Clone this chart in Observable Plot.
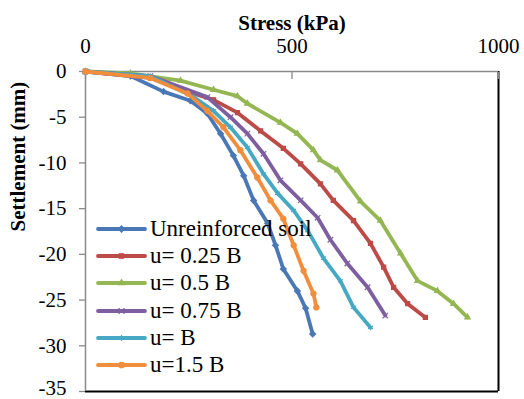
<!DOCTYPE html>
<html><head><meta charset="utf-8">
<script src="https://cdn.jsdelivr.net/npm/d3@7"></script>
<script src="https://cdn.jsdelivr.net/npm/@observablehq/plot@0.6"></script>
<style>
body{margin:0;background:#fff;}
#wrap{position:relative;width:524px;height:399px;font-family:"Liberation Serif","Times New Roman",serif;}
#wrap svg text{font-family:"Liberation Serif","Times New Roman",serif;}
#legend{position:absolute;left:96px;top:215px;}
.row{display:flex;align-items:center;height:27.3px;font-size:23px;color:#000;white-space:nowrap;}
.row svg{margin-right:3px;}
</style></head>
<body><div id="wrap"><div id="legend"></div></div>
<script>
const seriesNames = ["Unreinforced soil", "u= 0.25 B", "u= 0.5 B", "u= 0.75 B", "u= B", "u=1.5 B"];
const seriesColors = ["#4A78B6", "#BC4A47", "#94B653", "#7D5FA0", "#46A8C2", "#F08E3E"];
const seriesSymbols = ["diamond2", "square2", "triangle2", "times", "asterisk", "circle"];

const stressUnreinforced = [0, 109, 189, 254, 295, 327, 358, 383, 407, 441, 460, 479, 513, 533, 550];
const settleUnreinforced = [0, -0.5, -2.2, -3.2, -4.6, -6.8, -9.2, -11.4, -14.1, -16.6, -19.0, -21.6, -24.0, -25.9, -28.7];

const stressU025 = [0, 157, 254, 310, 368, 424, 479, 521, 569, 600, 649, 690, 722, 746, 780, 823];
const settleU025 = [0, -0.7, -2.3, -3.1, -4.5, -6.5, -8.4, -10.1, -12.3, -14.1, -16.3, -18.8, -21.4, -23.6, -25.4, -26.9];

const stressU05 = [0, 109, 230, 310, 368, 392, 472, 513, 552, 569, 610, 666, 714, 763, 804, 852, 891, 925];
const settleU05 = [0, -0.2, -1.0, -2.0, -2.7, -3.5, -5.6, -6.8, -8.6, -9.7, -10.8, -14.2, -16.3, -19.9, -22.9, -24.0, -25.4, -26.9];

const stressU075 = [0, 157, 295, 351, 392, 431, 472, 521, 562, 593, 634, 683, 726];
const settleU075 = [0, -0.5, -2.8, -5.0, -6.8, -9.0, -11.9, -14.1, -16.0, -18.4, -21.0, -23.6, -26.7];

const stressU1 = [0, 157, 262, 310, 351, 392, 431, 465, 504, 538, 576, 617, 649, 690];
const settleU1 = [0, -0.5, -2.8, -4.3, -6.1, -8.3, -11.2, -13.3, -15.2, -17.4, -20.4, -22.9, -25.8, -28.0];

const stressU15 = [0, 157, 247, 295, 334, 375, 416, 448, 479, 504, 528, 552, 559];
const settleU15 = [0, -0.7, -2.4, -4.3, -6.1, -8.6, -11.6, -14.1, -16.1, -19.0, -21.8, -24.3, -25.8];

const xTicks = [0, 500, 1000];
const yTicks = [0, -5, -10, -15, -20, -25, -30, -35];

const stressList = [stressUnreinforced, stressU025, stressU05, stressU075, stressU1, stressU15];
const settleList = [settleUnreinforced, settleU025, settleU05, settleU075, settleU1, settleU15];

const data = seriesNames.flatMap((name, i) =>
  stressList[i].map((s, j) => ({series: name, stress: s, settle: settleList[i][j]})));

const font = "'Liberation Serif', 'Times New Roman', serif";
const seriesMarks = seriesNames.flatMap(name => {
  const d = data.filter(r => r.series === name);
  return [
    Plot.line(d, {x: "stress", y: "settle", stroke: "series", strokeWidth: 3.8, strokeLinejoin: "round", strokeLinecap: "round"}),
    Plot.dot(d, {x: "stress", y: "settle", symbol: "series", stroke: "series", fill: "series", r: 2.6, strokeWidth: 1.2})
  ];
});

const yTicksUpper = yTicks.slice(0, -1);
const yTicksLast = yTicks.slice(-1);

const chart = Plot.plot({
  width: 524, height: 399,
  marginLeft: 85, marginRight: 26, marginTop: 71, marginBottom: 8,
  style: `font-family: ${font}; background: white; color: black; overflow: visible;`,
  x: {domain: [0, 1000]},
  y: {domain: [-35, 0]},
  color: {domain: seriesNames, range: seriesColors},
  symbol: {domain: seriesNames, range: seriesSymbols},
  marks: [
    Plot.ruleX([1000], {stroke: "black", strokeWidth: 2}),
    Plot.ruleY([-35], {stroke: "black", strokeWidth: 2}),
    Plot.ruleY([0], {stroke: "#8a8a8a", strokeWidth: 1.5}),
    Plot.ruleX([0], {stroke: "#8a8a8a", strokeWidth: 1.5}),
    Plot.axisX({anchor: "top", ticks: xTicks, tickSize: 7, dy: 7, text: null, stroke: "#8a8a8a", strokeWidth: 1.3, label: null}),
    Plot.axisX({anchor: "top", ticks: xTicks, tickSize: 0, tickPadding: 19, fontSize: 21, fontFamily: font, label: null, tickFormat: d => String(d)}),
    Plot.axisY({anchor: "left", ticks: yTicks, tickSize: 6, text: null, label: null, stroke: "#8a8a8a", strokeWidth: 1.3}),
    Plot.axisY({anchor: "left", ticks: yTicksUpper, tickSize: 0, tickPadding: 19, fontSize: 21, fontFamily: font, label: null, tickFormat: d => String(d)}),
    Plot.axisY({anchor: "left", ticks: yTicksLast, tickSize: 0, tickPadding: 19, dy: -3, fontSize: 21, fontFamily: font, label: null, tickFormat: d => String(d)}),
    Plot.text(["Stress (kPa)"], {frameAnchor: "top", dy: -56, fontSize: 21, fontWeight: "bold", fontFamily: font, fill: "black"}),
    Plot.text(["Settlement (mm)"], {frameAnchor: "left", dx: -67, rotate: -90, fontSize: 21, fontWeight: "bold", fontFamily: font, fill: "black"}),
    ...seriesMarks
  ]
});
document.getElementById("wrap").prepend(chart);

const symbolTypes = {diamond2: d3.symbolDiamond2, square2: d3.symbolSquare2, triangle2: d3.symbolTriangle2, times: d3.symbolTimes, asterisk: d3.symbolAsterisk, circle: d3.symbolCircle};
const legend = d3.select("#legend");
seriesNames.forEach((name, i) => {
  const row = legend.append("div").attr("class", "row");
  const svg = row.append("svg").attr("width", 51).attr("height", 20);
  svg.append("line").attr("x1", 2).attr("x2", 49).attr("y1", 10).attr("y2", 10)
    .attr("stroke", seriesColors[i]).attr("stroke-width", 3.8).attr("stroke-linecap", "round");
  svg.append("path").attr("transform", "translate(25.5,10)")
    .attr("d", d3.symbol().type(symbolTypes[seriesSymbols[i]]).size(24)())
    .attr("fill", seriesColors[i]).attr("stroke", seriesColors[i]).attr("stroke-width", 1.2);
  row.append("span").text(name);
});
</script>
</body></html>
